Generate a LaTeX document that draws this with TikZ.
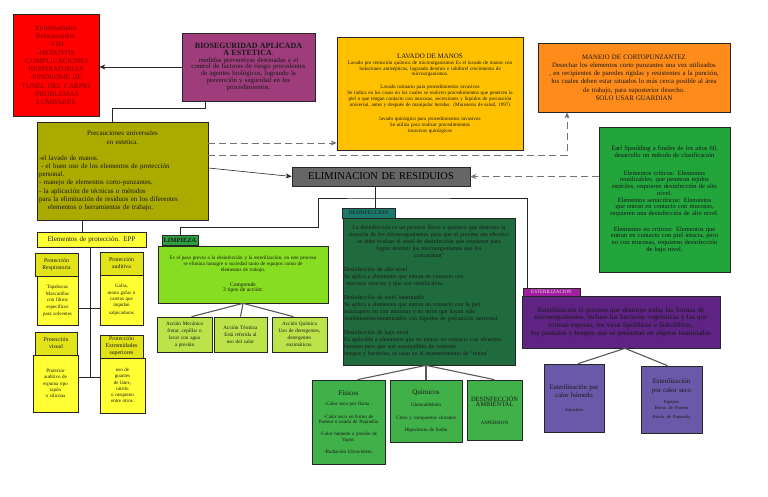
\documentclass[tikz,border=0pt]{standalone}
\usepackage{fontspec}
\setmainfont{Liberation Serif}
\usetikzlibrary{arrows.meta,calc}
\newcommand\fs[2]{\fontsize{#1}{#2}\selectfont}
\definecolor{cRed}{HTML}{FF0000}
\definecolor{cRedT}{HTML}{7A0000}
\definecolor{cPurp}{HTML}{9E3C7C}
\definecolor{cLav}{HTML}{FFC000}
\definecolor{cMan}{HTML}{FF8C1A}
\definecolor{cOli}{HTML}{AAAA00}
\definecolor{cSpa}{HTML}{22A63C}
\definecolor{cElim}{HTML}{666666}
\definecolor{cDtab}{HTML}{1C7A6C}
\definecolor{cDes}{HTML}{1F6B3D}
\definecolor{cLtab}{HTML}{2FA040}
\definecolor{cLim}{HTML}{86DD22}
\definecolor{cLsub}{HTML}{BDE34A}
\definecolor{cEpp}{HTML}{FFFF33}
\definecolor{cEph}{HTML}{E3E31A}
\definecolor{cDsub}{HTML}{40B048}
\definecolor{cEtab}{HTML}{A020A0}
\definecolor{cEst}{HTML}{5E2383}
\definecolor{cEsub}{HTML}{6A58A8}
\begin{document}
\begin{tikzpicture}[x=1pt,y=-1pt,
 box/.style={draw=black!85, line width=0.7pt, inner sep=1.5pt, align=center, text=black!90},
 conn/.style={draw=black!85, line width=0.6pt},
 dconn/.style={draw=black!55, line width=0.8pt, dash pattern=on 7pt off 4pt},
 tree/.style={draw=black!65, line width=1.1pt},
 arr/.style={-{Stealth[length=6pt,width=5pt]}}]
\useasboundingbox[fill=white] (0,0) rectangle (768,497);

% top row
\node[box, fill=cRed, text=cRedT, minimum width=86pt, minimum height=102pt, text width=82pt, font=\fs{7.2}{8.3}] (red) at (56,65) {Enfermedades\\Relacionadas:\\-VIH\\-HEPATITIS\\-COMPLICACIONES\\RESPIRATORIAS\\-SINDROME DE\\TUNEL DEL CARPIO\\-PROBLEMAS\\LUMBARES};

\node[box, fill=cPurp, minimum width=133pt, minimum height=68pt, text width=129pt, font=\fs{6.8}{6.9}] (purple) at (248.5,67) {{\fs{8}{8.6}\bfseries BIOSEGURIDAD APLICADA\\A ESTETICA}.\par medidas preventivas destinadas a el\\control de factores de riesgo procedentes\\de agentes biológicos, logrando la\\prevención y seguridad en los\\procedimientos.};

\node[box, fill=cLav, inner sep=1pt, minimum width=186pt, minimum height=113pt, text width=184pt, font=\fs{5.1}{5.9}] (lavado) at (430,93.5) {{\fs{7}{7}LAVADO DE MANOS}\\Lavado por remoción química de microorganismos  Es el lavado de manos con\\Soluciones antisépticas, logrando destruir e inhibirel crecimiento de\\microorganismos.\\[7pt]Lavado rutinario para procedimientos invasivos\\Se indica en los casos en los cuales se realicen procedimientos que penetren la\\piel o que tengan contacto con mucosas, secreciones y líquidos de precaución\\universal, antes y después de manipular heridas. (Ministerio de salud, 1997)\\[8pt]lavado quirúrgico para procedimientos invasivos\\Se utiliza para realizar procedimientos\\invasivos quirúrgicos};

\node[box, fill=cMan, minimum width=192pt, minimum height=69pt, text width=188pt, font=\fs{6.8}{8.2}] (manejo) at (634,77.5) {MANEJO DE CORTOPUNZANTEZ\\Desechar los elementos corto punzantes una vez utilizados\\, en recipientes de paredes rígidas y resistentes a la punción,\\los cuales deben estar situados lo más cerca posible al área\\de trabajo, para suposterior desecho.\\SOLO USAR GUARDIAN};

% olive
\node[box, fill=cOli, align=left, minimum width=171pt, minimum height=98pt, text width=167pt, font=\fs{7}{8.2}] (olive) at (122.5,171) {{\centering Precauciones universales\\en estetica.\par}\vspace{8pt}-el lavado de manos.\\\hspace*{2pt}- el buen uso de los elementos de protección\\personal.\\- manejo de elementos corto-punzantes.\\- la aplicación de técnicas o métodos\\para la eliminación de residuos en los diferentes\\\hspace*{9pt}elementos o herramientas de trabajo.};

% spaulding
\node[box, fill=cSpa, minimum width=131pt, minimum height=145pt, text width=127pt, font=\fs{6.5}{6.7}] (spaul) at (664.5,199.5) {Earl Spaulding a finales de los años 60,\\desarrollo un método de clasificación\\[11pt]Elementos críticos: Elementos\\reutilizables, que penetran tejidos\\estériles, requieren desinfección de alto\\nivel.\\Elementos semicríticos: Elementos\\que entran en contacto con mucosas,\\requieren una desinfección de alto nivel.\\[9pt]Elementos no críticos: Elementos que\\entran en contacto con piel intacta, pero\\no con mucosas, requieren desinfección\\de bajo nivel.\\[8pt]};

% eliminacion
\node[box, fill=cElim, minimum width=178pt, minimum height=19pt, text width=174pt, font=\fs{10.5}{11}, text=black] (elim) at (381,176.5) {ELIMINACION DE RESIDUIOS};

% desinfeccion
\node[box, fill=cDtab, inner sep=0pt, minimum width=53pt, minimum height=10pt, font=\fs{5.5}{6}] (dtab) at (368.5,213) {DESINFECCION};
\node[box, fill=cDes, align=left, minimum width=172pt, minimum height=147pt, text width=170pt, inner sep=1pt, font=\fs{5.9}{7}] (des) at (429,291.5) {{\centering La desinfección es un proceso físico o químico que destruye la\\mayoría de los microorganismos, para que el proceso sea efectivo\\se debe evaluar el nivel de desinfección que requieren para\\lograr destruir los microorganismos que los\\contaminan"\par}\vspace{7pt}Desinfección de alto nivel\\Se aplica a elementos que entran en contacto con\\\hspace*{2pt}mucosas intactas y que son reutilizables.\par\vspace{7pt}Desinfección de nivel intermedio\\Se aplica a elementos que entran en contacto con la piel\\intactapero no con mucosas y en otros que hayan sido\\visiblementecontaminados con líquidos de precaución universal.\par\vspace{7pt}Desinfección de bajo nivel\\Es aplicable a elementos que no entran en contacto con elcuerpo\\humano pero que son susceptibles de contener\\hongos y bacterias, se usan en el mantenimiento de ‘rutina’.};

\node[box, fill=cDsub, minimum width=73pt, minimum height=84pt, text width=71pt, inner sep=1pt, font=\fs{5}{5.4}] (fis) at (348.5,422) {{\fs{7}{7}Físicos}\\[5pt]-Calor seco por flama .\\[7pt]-Calor seco en horno de\\Pasteur o estufa de Pupinelia\\[7pt]-Calor húmedo a presión de\\Vapor.\\[7pt]-Radiación Ultravioleta.};
\node[box, fill=cDsub, minimum width=72pt, minimum height=62pt, text width=70pt, inner sep=1pt, font=\fs{5}{5.4}] (quim) at (426,411) {{\fs{7}{7}Químicos}\\[7pt]Glutaraldehido\\[7pt]Cloro y compuestos clorados\\[7pt]Hipoclorito de Sodio};
\node[box, fill=cDsub, minimum width=55pt, minimum height=60pt, text width=53pt, inner sep=1pt, font=\fs{5}{5.4}] (amb) at (494.5,410) {{\fs{6.5}{7}DESINFECCIÓN\\AMBIENTAL}\\[12pt]ASPERSION};

% limpieza
\node[box, fill=cLtab, inner sep=0pt, minimum width=36pt, minimum height=10pt, font=\fs{6.5}{7}\bfseries] (ltab) at (180,240) {LIMPIEZA};
\node[box, fill=cLim, minimum width=170pt, minimum height=57pt, text width=166pt, font=\fs{5.1}{5.6}] (limp) at (243,274.5) {Es el paso previo a la desinfección y la esterilización, en este proceso\\se elimina lamugre o suciedad tanto de equipos como de\\elementos de trabajo.\\[8pt]{\fs{5.5}{7}Comprende\\3 tipos de acción:}};
\node[box, fill=cLsub, minimum width=55pt, minimum height=35pt, text width=53pt, inner sep=1pt, font=\fs{5.2}{7}] (ls1) at (184.5,334.5) {Acción Mecánica\\frotar, cepillar o\\lavar con agua\\a presión};
\node[box, fill=cLsub, minimum width=53pt, minimum height=35pt, text width=51pt, inner sep=1pt, font=\fs{5.2}{7}] (ls2) at (240.5,334.5) {Acción Térmica\\Está referida al\\uso del calor};
\node[box, fill=cLsub, minimum width=55pt, minimum height=35pt, text width=53pt, inner sep=1pt, font=\fs{5.2}{7}] (ls3) at (299.5,334.5) {Acción Química\\Uso de detergentes,\\detergentes\\enzimáticos.};

% EPP
\node[box, fill=cEpp, minimum width=109pt, minimum height=15pt, text width=105pt, font=\fs{7}{8}] (epp) at (91.5,239.5) {Elementos de protección. EPP};
\node[box, fill=cEph, minimum width=43pt, minimum height=23pt, text width=41pt, inner sep=1pt, font=\fs{5.8}{7}] (resph) at (56.5,264.5) {Protección\\Respiratoria};
\node[box, fill=cEpp, minimum width=41pt, minimum height=49pt, text width=39pt, inner sep=1pt, font=\fs{5}{6.7}] (resp) at (57.5,300.5) {Tapabocas\\Mascarillas\\con filtros\\específicos\\para solventes};
\node[box, fill=cEph, minimum width=43pt, minimum height=23pt, text width=41pt, inner sep=1pt, font=\fs{5.8}{7}] (audh) at (121.5,263.5) {Protección\\auditiva};
\node[box, fill=cEpp, minimum width=43pt, minimum height=50pt, text width=41pt, inner sep=1pt, font=\fs{5}{6.2}] (aud) at (121.5,300) {Gafas,\\mono gafas o\\caretas que\\impidan\\[2pt]salpicaduras};
\node[box, fill=cEph, minimum width=42pt, minimum height=23pt, text width=40pt, inner sep=1pt, font=\fs{5.8}{7}] (vish) at (56,343.5) {Protección\\visual};
\node[box, fill=cEpp, minimum width=45pt, minimum height=57pt, text width=43pt, inner sep=1pt, font=\fs{5}{6.4}] (vis) at (55.5,383.5) {Protector\\auditivo de\\espuma tipo\\tapón\\o silicona};
\node[box, fill=cEph, minimum width=43pt, minimum height=23pt, text width=41pt, inner sep=1pt, font=\fs{5.8}{7}] (exth) at (121.5,346.5) {Protección\\Extremidades\\superiores};
\node[box, fill=cEpp, minimum width=45pt, minimum height=55pt, text width=43pt, inner sep=1pt, font=\fs{5}{6.2}] (ext) at (122.5,385.5) {uso de\\guantes\\de látex,\\nitrilo\\o neopreno\\entre otros.};

% esterilizacion
\node[box, fill=cEtab, inner sep=0pt, minimum width=57pt, minimum height=8pt, font=\fs{5}{6}, text=white!85!magenta] (etab) at (551.5,292) {ESTERILIZACION};
\node[box, fill=cEst, minimum width=198pt, minimum height=52pt, text width=194pt, font=\fs{7}{7.8}] (est) at (621,322) {Esterilización el proceso que destruye todas las formas de\\microorganismos, incluso las bacterias vegetativas y las que\\forman esporas, los virus lipofílicos e hidrofílicos,\\los parásitos y hongos que se presentan en objetos inanimados};
\node[box, fill=cEsub, minimum width=60pt, minimum height=68pt, text width=58pt, inner sep=1pt, font=\fs{6.8}{8}] (hum) at (574,398) {Esterilización por\\calor húmedo\\[6pt]{\fs{4.5}{5}Autoclave}};
\node[box, fill=cEsub, minimum width=61pt, minimum height=67pt, text width=59pt, inner sep=1pt, font=\fs{6.8}{9}] (seco) at (671.5,399.5) {Esterilización\\por calor seco\\[4pt]{\fs{4.5}{6.5}Equipos\\Horno de Pasteur\\Estufa de Pupinelia}};

% coordinates
\coordinate (j1) at (112,108);
\coordinate (ox) at (82,0);
\coordinate (x205) at (205,0);
\coordinate (x375) at (375,0);
\coordinate (x527) at (527,0);
\coordinate (x567) at (567,0);
\coordinate (t1) at (375,198);
\coordinate (t2) at (318,227);
\coordinate (ex) at (90,0);
\coordinate (e1) at (90,308);
\coordinate (e2) at (90,377);
\coordinate (y143) at (0,143);
\coordinate (y155) at (0,155);
\coordinate (y168) at (0,168);

% connectors
\draw[conn,arr] (purple.west) -- (purple.west -| red.east);
\draw[conn] (purple.south -| x205) |- (j1) -- (j1 |- olive.north);
\draw[dconn,arr] (olive.east |- y143) -- (lavado.west |- y143);
\draw[dconn,arr] (olive.east |- y155) -| (manejo.south -| x567);
\draw[conn,arr] (olive.east |- y168) -- (elim.west);
\draw[dconn,arr] (spaul.west |- elim.east) -- (elim.east);
\draw[conn] (olive.south -| ox) -- (epp.north -| ox);

\draw[conn] (elim.south -| x375) -- (dtab.north -| x375);
\draw[conn] (ltab.north) |- (t2) |- (t1) -| (etab.north -| x527);

\draw[conn] (epp.south -| ex) -- (e2);
\draw[conn] (resp.east |- e1) -- (aud.west |- e1);
\draw[conn] (vis.east |- e2) -- (ext.west |- e2);

\draw[tree] (limp.south) -- ($(ls1.north)+(7,0)$);
\draw[tree] (limp.south) -- (ls2.north);
\draw[tree] (limp.south) -- ($(ls3.north)+(-6,0)$);
\draw[tree] (des.south -| quim.north) -- ($(fis.north)+(9,0)$);
\draw[tree] (des.south -| quim.north) -- (quim.north);
\draw[tree] (des.south -| quim.north) -- (amb.north);
\draw[tree] ($(est.south)+(4,0)$) -- ($(hum.north)+(4,0)$);
\draw[tree] ($(est.south)+(4,0)$) -- ($(seco.north)+(-4,0)$);
\end{tikzpicture}
\end{document}
